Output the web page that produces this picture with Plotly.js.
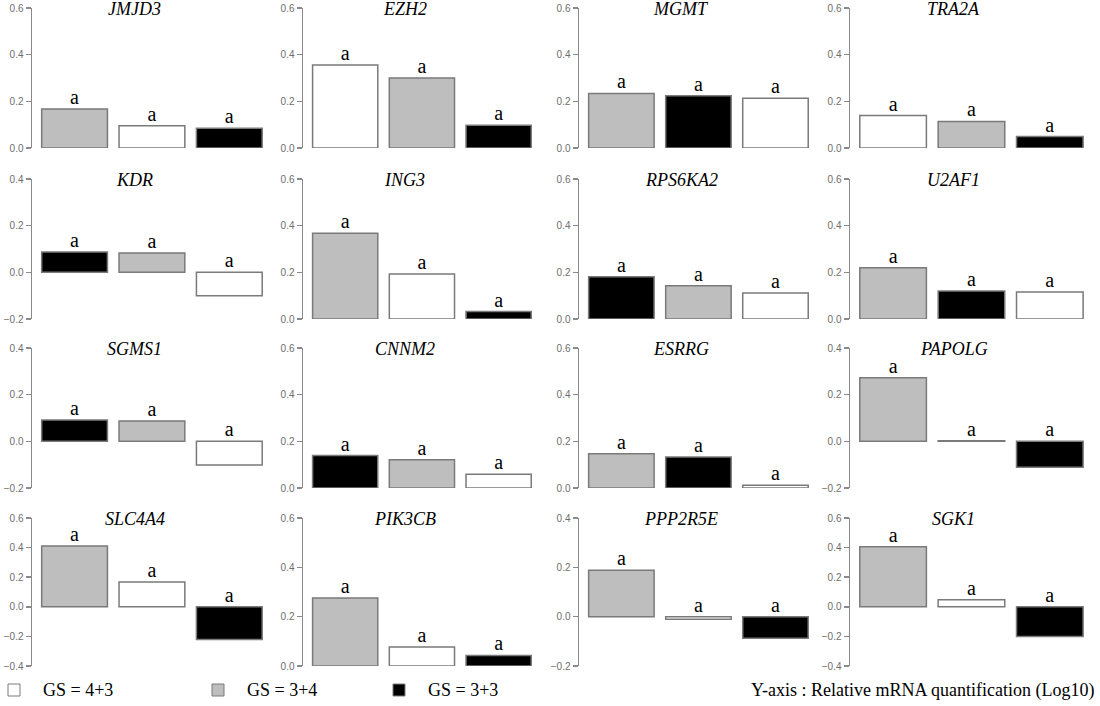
<!DOCTYPE html>
<html>
<head>
<meta charset="utf-8">
<script src="https://cdn.plot.ly/plotly-3.0.1.min.js"></script>
<style>html,body{margin:0;padding:0;background:#fff}#chart{width:1100px;height:706px}</style>
</head>
<body>
<div id="chart"></div>
<script>
// ---------- DATA ----------
const genes = ['JMJD3','EZH2','MGMT','TRA2A','KDR','ING3','RPS6KA2','U2AF1',
               'SGMS1','CNNM2','ESRRG','PAPOLG','SLC4A4','PIK3CB','PPP2R5E','SGK1'];
const groupLabels = ['GS = 4+3','GS = 3+4','GS = 3+3'];
const barGroups = [
  ['GS = 3+4','GS = 4+3','GS = 3+3'], // JMJD3
  ['GS = 4+3','GS = 3+4','GS = 3+3'], // EZH2
  ['GS = 3+4','GS = 3+3','GS = 4+3'], // MGMT
  ['GS = 4+3','GS = 3+4','GS = 3+3'], // TRA2A
  ['GS = 3+3','GS = 3+4','GS = 4+3'], // KDR
  ['GS = 3+4','GS = 4+3','GS = 3+3'], // ING3
  ['GS = 3+3','GS = 3+4','GS = 4+3'], // RPS6KA2
  ['GS = 3+4','GS = 3+3','GS = 4+3'], // U2AF1
  ['GS = 3+3','GS = 3+4','GS = 4+3'], // SGMS1
  ['GS = 3+3','GS = 3+4','GS = 4+3'], // CNNM2
  ['GS = 3+4','GS = 3+3','GS = 4+3'], // ESRRG
  ['GS = 3+4','GS = 4+3','GS = 3+3'], // PAPOLG
  ['GS = 3+4','GS = 4+3','GS = 3+3'], // SLC4A4
  ['GS = 3+4','GS = 4+3','GS = 3+3'], // PIK3CB
  ['GS = 3+4','GS = 4+3','GS = 3+3'], // PPP2R5E
  ['GS = 3+4','GS = 4+3','GS = 3+3']  // SGK1
];
const values = [
  [0.167, 0.095, 0.085],
  [0.356, 0.300, 0.097],
  [0.234, 0.224, 0.213],
  [0.139, 0.114, 0.049],
  [0.087, 0.083, -0.100],
  [0.367, 0.193, 0.032],
  [0.181, 0.143, 0.111],
  [0.220, 0.120, 0.116],
  [0.091, 0.087, -0.101],
  [0.139, 0.121, 0.059],
  [0.147, 0.133, 0.012],
  [0.272, 0.002, -0.111],
  [0.410, 0.168, -0.221],
  [0.276, 0.077, 0.043],
  [0.188, -0.010, -0.088],
  [0.406, 0.048, -0.200]
];
const sigLetters = values.map(() => ['a','a','a']);
const yMin = [0,0,0,0, -0.2,0,0,0, -0.2,0,0,-0.2, -0.4,0,-0.2,-0.4];
const yMax = [0.6,0.6,0.6,0.6, 0.4,0.6,0.6,0.6, 0.4,0.6,0.6,0.4, 0.6,0.6,0.4,0.6];
const yAxisNote = 'Y-axis : Relative mRNA quantification (Log10)';

// ---------- STYLE ----------
const W = 1100, H = 706;
const fillFor = {'GS = 4+3':'#ffffff','GS = 3+4':'#bebebe','GS = 3+3':'#000000'};
const colPx = [[32,268],[303,537],[579,814],[850,1089]];
const rowPx = [[8,148],[179,319],[348,488],[518,666]];
const serif = '"Liberation Serif","Times New Roman",serif';
const sans = '"Liberation Sans",Arial,sans-serif';

const traces = [];
const layout = {
  width: W, height: H,
  margin: {l:0, r:0, t:0, b:0},
  paper_bgcolor: '#ffffff', plot_bgcolor: 'rgba(0,0,0,0)',
  showlegend: false,
  bargap: 0.15,
  annotations: [],
  shapes: []
};

genes.forEach((g, i) => {
  const n = i === 0 ? '' : String(i + 1);
  const r = Math.floor(i / 4), c = i % 4;
  traces.push({
    type: 'bar',
    x: barGroups[i], y: values[i],
    xaxis: 'x' + n, yaxis: 'y' + n,
    marker: {color: barGroups[i].map(k => fillFor[k]), line: {color: '#7a7a7a', width: 1.5}},
    hoverinfo: 'x+y'
  });
  traces.push({
    type: 'scatter', mode: 'text',
    x: barGroups[i], y: values[i].map(v => Math.max(v, 0)),
    text: sigLetters[i], textposition: 'top center',
    textfont: {family: serif, size: 20, color: '#000'},
    cliponaxis: false, hoverinfo: 'skip',
    xaxis: 'x' + n, yaxis: 'y' + n
  });
  layout['xaxis' + n] = {
    domain: [colPx[c][0] / W, colPx[c][1] / W],
    anchor: 'y' + n, type: 'category', range: [-0.55, 2.5],
    visible: false, fixedrange: true
  };
  layout['yaxis' + n] = {
    domain: [1 - rowPx[r][1] / H, 1 - rowPx[r][0] / H],
    anchor: 'x' + n, range: [yMin[i], yMax[i]],
    tick0: 0, dtick: 0.2, tickformat: '.1f',
    showline: true, linecolor: '#8a8a8a', linewidth: 1.5,
    ticks: 'outside', ticklen: 5, tickwidth: 1.5, tickcolor: '#8a8a8a',
    tickfont: {family: sans, size: 10, color: '#6e6e6e'},
    showgrid: false, zeroline: false, fixedrange: true
  };
  layout.annotations.push({
    xref: 'x' + n + ' domain', yref: 'y' + n + ' domain',
    x: 0.435, y: 1, xanchor: 'center', yanchor: 'middle', yshift: -1,
    text: '<i>' + g + '</i>', showarrow: false,
    font: {family: serif, size: 18, color: '#000'}
  });
});

// legend (custom, bottom row)
const legendX = [8, 212, 393];
groupLabels.forEach((lab, k) => {
  layout.shapes.push({
    type: 'rect', xref: 'paper', yref: 'paper',
    x0: legendX[k] / W, x1: (legendX[k] + 12) / W,
    y0: 1 - 696 / H, y1: 1 - 684 / H,
    fillcolor: fillFor[lab], line: {color: '#7a7a7a', width: 1}
  });
  layout.annotations.push({
    xref: 'paper', yref: 'paper', x: (legendX[k] + 33) / W, y: 1 - 690 / H,
    xanchor: 'left', yanchor: 'middle', text: lab, showarrow: false,
    font: {family: serif, size: 18, color: '#000'}
  });
});
layout.annotations.push({
  xref: 'paper', yref: 'paper', x: 1096 / W, y: 1 - 690 / H,
  xanchor: 'right', yanchor: 'middle', text: yAxisNote, showarrow: false,
  font: {family: serif, size: 18, color: '#000'}
});

Plotly.newPlot('chart', traces, layout, {displayModeBar: false, staticPlot: true});
</script>
</body>
</html>
